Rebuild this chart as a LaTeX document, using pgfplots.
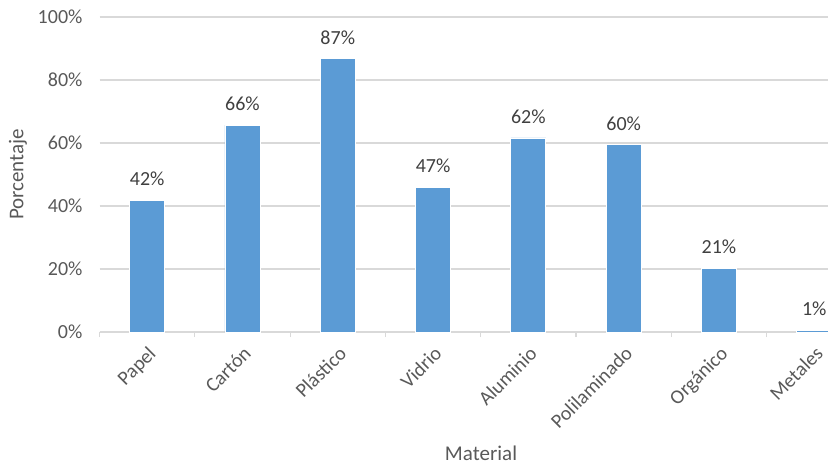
\documentclass[border=0pt]{standalone}
\usepackage{fontspec}
\setmainfont{Carlito}
\usepackage{pgfplots}
\usepackage{pgfplotstable}
\pgfplotsset{compat=1.18}
\definecolor{barblue}{HTML}{5B9BD5}
\definecolor{txtgray}{HTML}{595959}
\definecolor{lblgray}{HTML}{404040}
\definecolor{gridgray}{HTML}{D9D9D9}

\pgfplotstableread{
x y lab
0 41.9 42
1 65.7 66
2 86.7 87
3 46.0 47
4 61.6 62
5 59.4 60
6 20.3 21
7 0.6 1
}\datatable

\begin{document}
\begin{tikzpicture}
\begin{axis}[
    scale only axis,
    width=364.25pt, height=157.5pt,
    xmin=-0.5, xmax=7.144,
    ymin=0, ymax=100,
    ytick={0,20,...,100},
    yticklabel={\pgfmathprintnumber{\tick}\%},
    /pgf/number format/assume math mode=true,
    xtick={0,...,7},
    xticklabels={Papel,Cartón,Plástico,Vidrio,Aluminio,Polilaminado,Orgánico,Metales},
    minor xtick={-0.5,0.5,...,6.5},
    major tick length=0pt,
    minor tick length=2.5pt,
    tick align=outside,
    axis x line*=bottom,
    axis y line*=left,
    y axis line style={draw=none},
    x axis line style={draw=gridgray, line width=0.6pt},
    every minor tick/.style={draw=gridgray, line width=0.6pt},
    ymajorgrids,
    grid style={draw=gridgray, line width=0.6pt},
    tick label style={font=\fontsize{10}{12}\selectfont, text=txtgray},
    yticklabel style={anchor=east, xshift=-5pt},
    xticklabel shift=3.5pt,
    xticklabel style={rotate=45, anchor=north east, inner sep=2pt},
    xlabel={Material},
    ylabel={Porcentaje},
    label style={font=\fontsize{10.5}{12}\selectfont, text=txtgray},
    xlabel style={at={(axis description cs:0.5237,0)}, anchor=center, yshift=-60.5pt},
    ylabel style={at={(axis description cs:-0.112,0.5)}, anchor=center, rotate=0},
    point meta=explicit symbolic,
    nodes near coords={\pgfplotspointmeta\%},
    nodes near coords style={font=\fontsize{10}{12}\selectfont, text=lblgray, anchor=south, yshift=3.5pt},
]
\addplot[ybar, bar width=17.5pt, fill=barblue, draw=white, line width=0.4pt]
    table[x=x, y=y, meta=lab] {\datatable};
\end{axis}
\pgfresetboundingbox
\path[use as bounding box] ([shift={(-49.75pt,-66.5pt)}]current axis.south west) rectangle ([shift={(0pt,8.5pt)}]current axis.north east);
\end{tikzpicture}
\end{document}
